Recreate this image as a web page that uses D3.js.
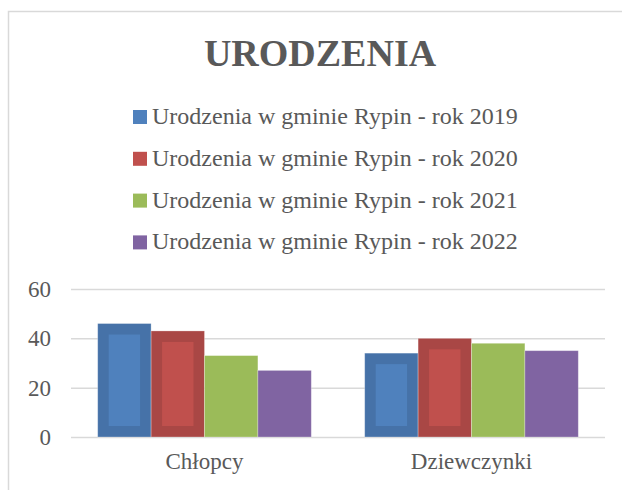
<!DOCTYPE html>
<html>
<head>
<meta charset="utf-8">
<script src="https://cdn.jsdelivr.net/npm/d3@7"></script>
<style>
  body { margin: 0; background: #fff; }
  svg text { font-family: "Liberation Serif", "Times New Roman", serif; fill: #595959; }
</style>
</head>
<body>
<div class="chart"></div>
<script>
const categories = ["Chłopcy", "Dziewczynki"];
const seriesNames = [
  "Urodzenia w gminie Rypin - rok 2019",
  "Urodzenia w gminie Rypin - rok 2020",
  "Urodzenia w gminie Rypin - rok 2021",
  "Urodzenia w gminie Rypin - rok 2022"
];
const values2019 = [46, 34];
const values2020 = [43, 40];
const values2021 = [33, 38];
const values2022 = [27, 35];
const yTicks = [0, 20, 40, 60];

const seriesValues = [values2019, values2020, values2021, values2022];
const colors = ["#4f81bd", "#c0504d", "#9bbb59", "#8064a2"];
const outerColors = ["#4672a8", "#a94745", "#9bbb59", "#8064a2"];
const bevel = [true, true, false, false];

const width = 622, height = 490;
const plot = {left: 71, right: 605, top: 289, bottom: 437};
const serif = "'Liberation Serif', 'Times New Roman', serif";

const svg = d3.select(".chart").append("svg")
  .attr("width", width)
  .attr("height", height)
  .attr("font-family", serif);

// chart border (runs off the page on right/bottom)
svg.append("rect")
  .attr("x", 8.5).attr("y", 11.5)
  .attr("width", 640).attr("height", 500)
  .attr("fill", "#fff")
  .attr("stroke", "#d9d9d9")
  .attr("stroke-width", 1.5);

// title
svg.append("text")
  .attr("x", 320).attr("y", 66)
  .attr("text-anchor", "middle")
  .style("font-size", "38px")
  .style("font-weight", "bold")
  .text("URODZENIA");

// legend
const legend = svg.append("g").selectAll("g")
  .data(seriesNames)
  .enter().append("g")
  .attr("transform", (d, i) => "translate(133," + (124 + i * 41.8) + ")");

legend.append("rect")
  .attr("x", 0).attr("y", -14)
  .attr("width", 14).attr("height", 14)
  .attr("fill", (d, i) => colors[i]);

legend.append("text")
  .attr("x", 19).attr("y", 0)
  .style("font-size", "24px")
  .style("font-family", serif)
  .text(d => d);

// scales
const x0 = d3.scaleBand()
  .domain(categories)
  .range([plot.left, plot.right]);

const x1 = d3.scaleBand()
  .domain(d3.range(seriesNames.length))
  .range([0, x0.bandwidth()])
  .paddingOuter(0.5);

const y = d3.scaleLinear()
  .domain([0, 60])
  .range([plot.bottom, plot.top]);

// gridlines
svg.append("g")
  .attr("transform", "translate(" + plot.left + ",0)")
  .call(d3.axisLeft(y).tickValues(yTicks).tickSize(-(plot.right - plot.left)).tickFormat(""))
  .call(g => g.select(".domain").remove())
  .call(g => g.selectAll("line").attr("stroke", "#d9d9d9").attr("stroke-width", 1.5));

// y labels
svg.append("g")
  .attr("transform", "translate(" + plot.left + ",0)")
  .call(d3.axisLeft(y).tickValues(yTicks).tickSize(0).tickPadding(20))
  .attr("font-family", serif)
  .call(g => g.select(".domain").remove())
  .call(g => g.selectAll("text").style("font-size", "23px").attr("fill", "#595959")
    .style("font-family", serif));

// bars
const groups = svg.append("g").selectAll("g")
  .data(categories)
  .enter().append("g")
  .attr("transform", d => "translate(" + x0(d) + ",0)");

const bars = groups.selectAll("g")
  .data((c, ci) => seriesValues.map((vals, si) => ({series: si, value: vals[ci]})))
  .enter().append("g");

bars.append("rect")
  .attr("x", d => x1(d.series))
  .attr("y", d => y(d.value))
  .attr("width", x1.bandwidth())
  .attr("height", d => y(0) - y(d.value))
  .attr("fill", d => outerColors[d.series])
  .attr("stroke", "#ffffff")
  .attr("stroke-opacity", 0.35)
  .attr("stroke-width", 0.8);

// bevel inner face
const inset = 11;
bars.filter(d => bevel[d.series])
  .append("rect")
  .attr("x", d => x1(d.series) + inset)
  .attr("y", d => y(d.value) + inset)
  .attr("width", x1.bandwidth() - 2 * inset)
  .attr("height", d => Math.max(0, y(0) - y(d.value) - 2 * inset))
  .attr("fill", d => colors[d.series]);

// category labels
svg.append("g")
  .attr("transform", "translate(0," + plot.bottom + ")")
  .call(d3.axisBottom(x0).tickSize(0).tickPadding(16))
  .attr("font-family", serif)
  .call(g => g.select(".domain").remove())
  .call(g => g.selectAll("text").style("font-size", "23px").attr("fill", "#595959")
    .style("font-family", serif));
</script>
</body>
</html>
